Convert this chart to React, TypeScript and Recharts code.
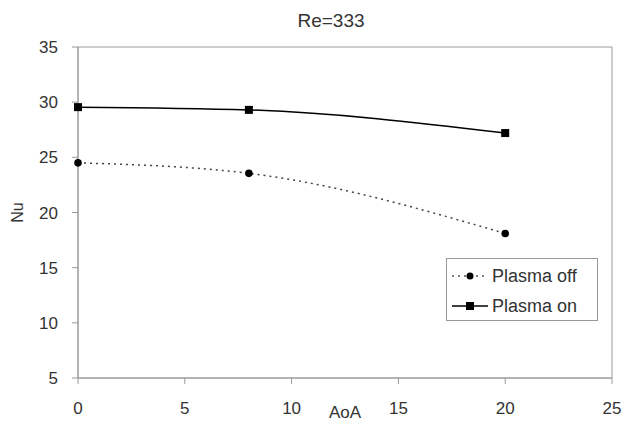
import React from 'react';
import {
  LineChart,
  Line,
  XAxis,
  YAxis,
  ReferenceArea,
} from 'recharts';

const aoaValues = [0, 8, 20];
const plasmaOff = [24.5, 23.55, 18.1];
const plasmaOn = [29.55, 29.3, 27.2];
const xTicks = [0, 5, 10, 15, 20, 25];
const yTicks = [5, 10, 15, 20, 25, 30, 35];

const data = aoaValues.map((aoa, i) => ({ aoa, off: plasmaOff[i], on: plasmaOn[i] }));

const FONT = '"Liberation Sans", Arial, sans-serif';
const AXIS = '#9a9a9a';
const TEXT = '#333';

const SquareDot = (props: any) => {
  const { cx, cy, index } = props;
  if (cx == null || cy == null) return null;
  return <rect key={`sq-${index}`} x={cx - 4} y={cy - 4} width={8} height={8} fill="#000" />;
};

const RoundDot = (props: any) => {
  const { cx, cy, index } = props;
  if (cx == null || cy == null) return null;
  return <circle key={`rd-${index}`} cx={cx} cy={cy} r={3.8} fill="#000" />;
};

// legend is placed by hand, Recharts' own Legend steals plot height
const LegendBox = () => (
  <div
    style={{
      position: 'absolute',
      left: 446,
      top: 258,
      width: 152,
      height: 63,
      border: `1px solid ${AXIS}`,
      background: '#fff',
      fontFamily: FONT,
      fontSize: 18,
      color: TEXT,
      boxSizing: 'border-box',
      whiteSpace: 'nowrap',
    }}
  >
    <div style={{ display: 'flex', alignItems: 'center', height: 30, marginTop: 2 }}>
      <svg width={42} height={12} style={{ marginLeft: 3 }}>
        <line x1={2} y1={6} x2={38} y2={6} stroke="#555" strokeDasharray="2 4" strokeWidth={1.5} />
        <circle cx={20} cy={6} r={3.5} fill="#000" />
      </svg>
      <span>Plasma off</span>
    </div>
    <div style={{ display: 'flex', alignItems: 'center', height: 30 }}>
      <svg width={42} height={12} style={{ marginLeft: 3 }}>
        <line x1={2} y1={6} x2={38} y2={6} stroke="#000" strokeWidth={1.5} />
        <rect x={16} y={2} width={8} height={8} fill="#000" />
      </svg>
      <span>Plasma on</span>
    </div>
  </div>
);

const YLabel = (props: any) => {
  const { viewBox } = props;
  const cy = viewBox.y + viewBox.height / 2;
  return (
    <text
      x={17}
      y={cy}
      transform={`rotate(-90, 17, ${cy})`}
      textAnchor="middle"
      dominantBaseline="central"
      fontFamily={FONT}
      fontSize={16}
      fill={TEXT}
    >
      Nu
    </text>
  );
};

export default function App() {
  return (
    <div style={{ position: 'absolute', left: 0, top: 0, width: 624, height: 424, background: '#fff' }}>
      <div
        style={{
          position: 'absolute',
          left: 331,
          top: 10,
          transform: 'translateX(-50%)',
          fontFamily: FONT,
          fontSize: 19,
          color: TEXT,
          whiteSpace: 'nowrap',
        }}
      >
        Re=333
      </div>
      <LineChart
        width={624}
        height={424}
        data={data}
        margin={{ top: 47, right: 12, bottom: 0, left: 0 }}
      >
        <XAxis
          type="number"
          dataKey="aoa"
          domain={[0, 25]}
          ticks={xTicks}
          tickSize={6}
          tickMargin={18}
          height={46}
          stroke={AXIS}
          tick={{ fill: TEXT, fontSize: 17, fontFamily: FONT }}
          label={{ value: 'AoA', position: 'insideBottom', offset: 6, fill: TEXT, fontSize: 17, fontFamily: FONT }}
        />
        <YAxis
          type="number"
          domain={[5, 35]}
          ticks={yTicks}
          tickSize={6}
          tickMargin={14}
          width={78}
          stroke={AXIS}
          tick={{ fill: TEXT, fontSize: 17, fontFamily: FONT }}
          label={<YLabel />}
        />
        <ReferenceArea x1={0} x2={25} y1={5} y2={35} fill="none" stroke={AXIS} strokeWidth={1} />
        <Line
          type="monotone"
          dataKey="off"
          name="Plasma off"
          stroke="#444"
          strokeWidth={1.5}
          strokeDasharray="2 4"
          dot={RoundDot}
          activeDot={false}
          isAnimationActive={false}
        />
        <Line
          type="monotone"
          dataKey="on"
          name="Plasma on"
          stroke="#000"
          strokeWidth={1.5}
          dot={SquareDot}
          activeDot={false}
          isAnimationActive={false}
        />
      </LineChart>
      <LegendBox />
    </div>
  );
}
